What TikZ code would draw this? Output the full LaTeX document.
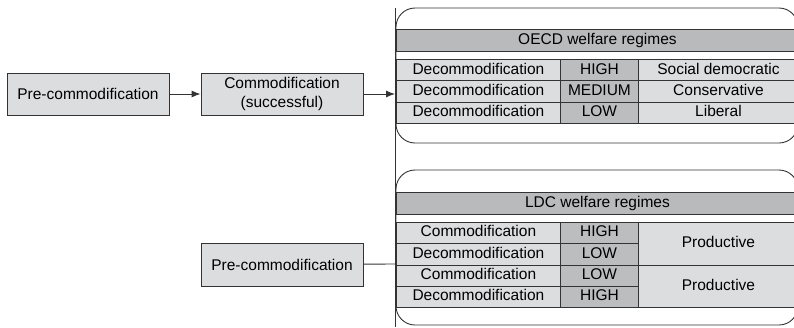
\documentclass[tikz,border=0pt]{standalone}
\usepackage{fontspec}
\setmainfont{Liberation Sans}
\usetikzlibrary{arrows.meta,positioning}
\definecolor{cellgray}{HTML}{DCDDDF}
\definecolor{headgray}{HTML}{B9BABC}
\definecolor{midgray}{HTML}{BCBDBF}
\definecolor{linegray}{HTML}{333333}

\tikzset{
  stage/.style={draw=linegray, fill=cellgray, minimum width=162pt, inner sep=0pt, align=center},
  cell/.style={draw=linegray, fill=cellgray, anchor=north west, inner sep=0pt,
    minimum height=21.3pt, text height=11pt, text depth=3.2pt},
  headbar/.style={cell, fill=headgray, minimum width=402pt, minimum height=22pt},
  regime/.style={draw=linegray, rounded corners=19pt}
}

\begin{document}
\begin{tikzpicture}[x=1pt, y=-1pt, >={Latex[length=9pt,width=7pt]}, line width=0.9pt,
    font=\fontsize{15.5}{18.5}\selectfont]
   \useasboundingbox (0,0) rectangle (794,327);

   % rounded regime frames
   \draw[regime] (396,8) rectangle (798,143);
   \draw[regime] (396,170) rectangle (798,325);

   % left side stages
   \node (pre1) [stage, minimum height=42pt] at (88,94) {Pre-commodification};
   \node (comm) [stage, minimum height=42pt] at (282,94) {Commodification\\(successful)};
   \node (pre2) [stage, minimum height=43pt] at (282,264.5) {Pre-commodification};

   % divider
   \coordinate (top) at (395,8);
   \coordinate (bot) at (395,327);
   \coordinate (in1) at (395,94);
   \coordinate (in2) at (395,264);
   \draw[draw=linegray] (top) -- (bot);

   \draw[->, draw=linegray, fill=linegray] (pre1) -- (comm);
   \draw[->, draw=linegray, fill=linegray] (comm) -- (in1);
   \draw[draw=linegray] (pre2) -- (in2);

   % OECD table
   \node (oecd) [headbar] at (396,29) {OECD welfare regimes};
   \foreach \lvl/\kind [count=\i from 0] in {HIGH/Social democratic, MEDIUM/Conservative, LOW/Liberal} {
     \node (od\i) [cell, minimum width=164pt] at (396,{59+21.3*\i}) {Decommodification};
     \node (ol\i) [cell, fill=midgray, minimum width=78pt] at (560,{59+21.3*\i}) {\lvl};
     \node (ok\i) [cell, minimum width=160pt] at (638,{59+21.3*\i}) {\kind};
   }

   % LDC table
   \node (ldc) [headbar, minimum height=21.5pt] at (396,192) {LDC welfare regimes};
   \foreach \what/\lvl [count=\i from 0] in {Commodification/HIGH, Decommodification/LOW, Commodification/LOW, Decommodification/HIGH} {
     \node (ld\i) [cell, minimum width=164pt, minimum height=21.25pt] at (396,{222+21.25*\i}) {\what};
     \node (ll\i) [cell, fill=midgray, minimum width=78pt, minimum height=21.25pt] at (560,{222+21.25*\i}) {\lvl};
   }
   \node (lk0) [cell, minimum width=160pt, minimum height=42.5pt] at (638,222) {Productive};
   \node (lk1) [cell, minimum width=160pt, minimum height=42.5pt] at (638,264.5) {Productive};
\end{tikzpicture}
\end{document}
